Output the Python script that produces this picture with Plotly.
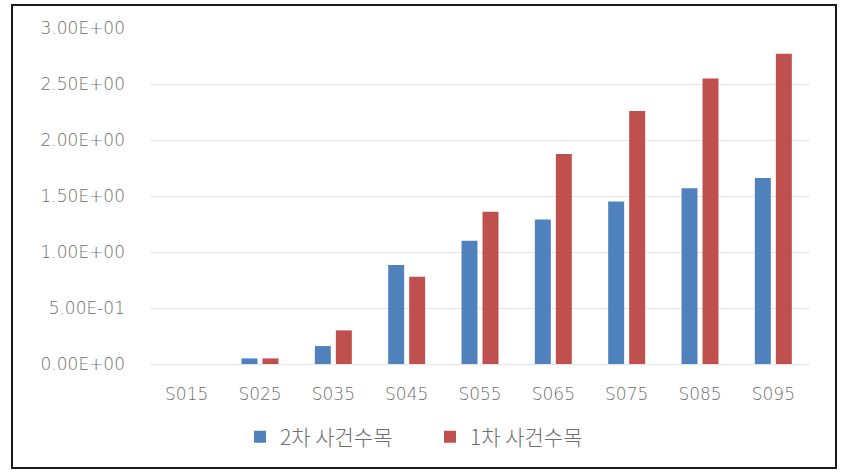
import plotly.graph_objects as go

categories = ["S015", "S025", "S035", "S045", "S055", "S065", "S075", "S085", "S095"]
series2_name = "2차 사건수목"
series1_name = "1차 사건수목"
series2_values = [0.0, 0.05, 0.16, 0.885, 1.10, 1.29, 1.45, 1.57, 1.66]
series1_values = [0.0, 0.05, 0.30, 0.78, 1.36, 1.874, 2.26, 2.55, 2.77]
y_tickvals = [0, 0.5, 1.0, 1.5, 2.0, 2.5, 3.0]
y_ticktext = ["0.00E+00", "5.00E-01", "1.00E+00", "1.50E+00", "2.00E+00", "2.50E+00", "3.00E+00"]

FONT = "DejaVu Sans, Noto Sans CJK KR, sans-serif"
TXT = "#6e6e6e"

fig = go.Figure()
fig.add_trace(go.Bar(x=categories, y=series2_values, name=series2_name,
                     marker=dict(color="#4F81BD", line=dict(width=0))))
fig.add_trace(go.Bar(x=categories, y=series1_values, name=series1_name,
                     marker=dict(color="#C0504D", line=dict(width=0))))

L, R, T, B = 150, 38, 28, 111
W, H = 848, 475
pw, ph = W - L - R, H - T - B

def px_x(x):
    return (x - L) / pw

def px_y(y):
    return (H - B - y) / ph

tick_font = dict(family=FONT, size=17, color=TXT, weight=200)

fig.update_layout(
    width=W, height=H,
    margin=dict(l=L, r=R, t=T, b=B),
    paper_bgcolor="white", plot_bgcolor="white",
    barmode="group", bargap=0.427, bargroupgap=0.24,
    font=tick_font,
    showlegend=True,
    legend=dict(orientation="h", x=px_x(240), xanchor="left",
                y=px_y(437), yanchor="middle",
                font=dict(family="Noto Sans CJK KR, DejaVu Sans, sans-serif", size=21, color=TXT, weight=300),
                itemwidth=30, entrywidth=145, entrywidthmode="pixels",
                traceorder="normal"),
    shapes=[dict(type="rect", xref="paper", yref="paper",
                 x0=px_x(12), x1=px_x(836), y0=px_y(468), y1=px_y(5),
                 line=dict(color="#1a1a1a", width=2), layer="below")],
)
fig.update_xaxes(showline=False, showgrid=False, ticks="",
                 tickfont=tick_font, ticklabelstandoff=18)
fig.update_yaxes(range=[0, 3], tickvals=y_tickvals, ticktext=y_ticktext,
                 showgrid=True, gridcolor="#e4e4e4", gridwidth=1,
                 zeroline=True, zerolinecolor="#e4e4e4", zerolinewidth=1,
                 showline=False, ticks="",
                 tickfont=tick_font, ticklabelstandoff=24)

fig.write_html("out.html")
